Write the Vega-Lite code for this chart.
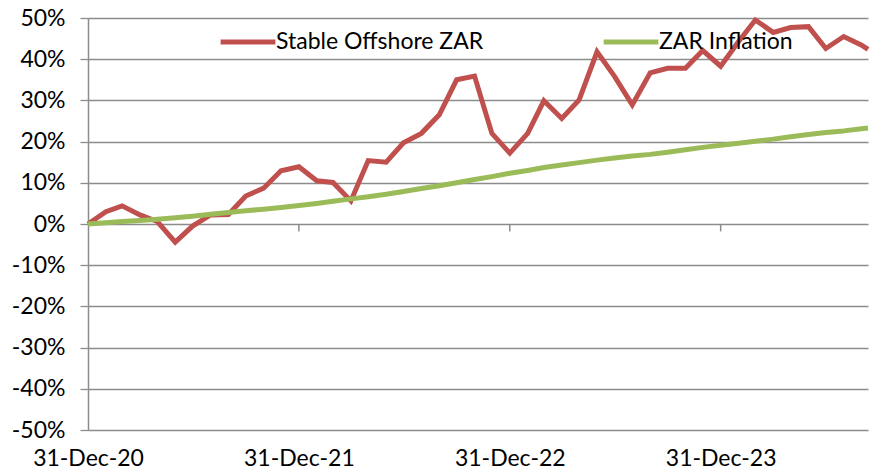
{
  "$schema": "https://vega.github.io/schema/vega-lite/v6.json",
  "width": 780,
  "height": 412,
  "autosize": {"type": "none"},
  "padding": {"left": 88, "top": 18, "right": 2, "bottom": 40},
  "background": "white",
  "config": {
    "view": {"stroke": null},
    "font": "Lato",
    "axis": {"labelFont": "Lato", "labelFontSize": 23, "labelColor": "#000000"},
    "legend": {"labelFont": "Lato", "labelFontSize": 23, "labelColor": "#000000"}
  },
  "datasets": {
    "series": [
      {"date": "2020-12-31", "series": "Stable Offshore ZAR", "value": 0.0},
      {"date": "2021-01-31", "series": "Stable Offshore ZAR", "value": 3.0},
      {"date": "2021-02-28", "series": "Stable Offshore ZAR", "value": 4.4},
      {"date": "2021-03-31", "series": "Stable Offshore ZAR", "value": 2.2},
      {"date": "2021-04-30", "series": "Stable Offshore ZAR", "value": 0.6},
      {"date": "2021-05-31", "series": "Stable Offshore ZAR", "value": -4.4},
      {"date": "2021-06-30", "series": "Stable Offshore ZAR", "value": -0.5},
      {"date": "2021-07-31", "series": "Stable Offshore ZAR", "value": 2.2},
      {"date": "2021-08-31", "series": "Stable Offshore ZAR", "value": 2.3},
      {"date": "2021-09-30", "series": "Stable Offshore ZAR", "value": 6.8},
      {"date": "2021-10-31", "series": "Stable Offshore ZAR", "value": 8.7},
      {"date": "2021-11-30", "series": "Stable Offshore ZAR", "value": 12.9},
      {"date": "2021-12-31", "series": "Stable Offshore ZAR", "value": 13.9},
      {"date": "2022-01-31", "series": "Stable Offshore ZAR", "value": 10.5},
      {"date": "2022-02-28", "series": "Stable Offshore ZAR", "value": 10.1},
      {"date": "2022-03-31", "series": "Stable Offshore ZAR", "value": 5.6},
      {"date": "2022-04-30", "series": "Stable Offshore ZAR", "value": 15.4},
      {"date": "2022-05-31", "series": "Stable Offshore ZAR", "value": 15.0},
      {"date": "2022-06-30", "series": "Stable Offshore ZAR", "value": 19.7},
      {"date": "2022-07-31", "series": "Stable Offshore ZAR", "value": 22.0},
      {"date": "2022-08-31", "series": "Stable Offshore ZAR", "value": 26.5},
      {"date": "2022-09-30", "series": "Stable Offshore ZAR", "value": 35.0},
      {"date": "2022-10-31", "series": "Stable Offshore ZAR", "value": 35.9},
      {"date": "2022-11-30", "series": "Stable Offshore ZAR", "value": 22.0},
      {"date": "2022-12-31", "series": "Stable Offshore ZAR", "value": 17.2},
      {"date": "2023-01-31", "series": "Stable Offshore ZAR", "value": 22.0},
      {"date": "2023-02-28", "series": "Stable Offshore ZAR", "value": 29.9},
      {"date": "2023-03-31", "series": "Stable Offshore ZAR", "value": 25.6},
      {"date": "2023-04-30", "series": "Stable Offshore ZAR", "value": 30.1},
      {"date": "2023-05-31", "series": "Stable Offshore ZAR", "value": 41.8},
      {"date": "2023-06-30", "series": "Stable Offshore ZAR", "value": 35.9},
      {"date": "2023-07-31", "series": "Stable Offshore ZAR", "value": 28.9},
      {"date": "2023-08-31", "series": "Stable Offshore ZAR", "value": 36.7},
      {"date": "2023-09-30", "series": "Stable Offshore ZAR", "value": 37.8},
      {"date": "2023-10-31", "series": "Stable Offshore ZAR", "value": 37.8},
      {"date": "2023-11-30", "series": "Stable Offshore ZAR", "value": 42.1},
      {"date": "2023-12-31", "series": "Stable Offshore ZAR", "value": 38.3},
      {"date": "2024-01-31", "series": "Stable Offshore ZAR", "value": 44.3},
      {"date": "2024-02-29", "series": "Stable Offshore ZAR", "value": 49.5},
      {"date": "2024-03-31", "series": "Stable Offshore ZAR", "value": 46.5},
      {"date": "2024-04-30", "series": "Stable Offshore ZAR", "value": 47.7},
      {"date": "2024-05-31", "series": "Stable Offshore ZAR", "value": 47.9},
      {"date": "2024-06-30", "series": "Stable Offshore ZAR", "value": 42.6},
      {"date": "2024-07-31", "series": "Stable Offshore ZAR", "value": 45.5},
      {"date": "2024-08-31", "series": "Stable Offshore ZAR", "value": 43.4},
      {"date": "2024-09-11", "series": "Stable Offshore ZAR", "value": 42.4},
      {"date": "2020-12-31", "series": "ZAR Inflation", "value": 0.0},
      {"date": "2021-01-31", "series": "ZAR Inflation", "value": 0.3},
      {"date": "2021-02-28", "series": "ZAR Inflation", "value": 0.6},
      {"date": "2021-03-31", "series": "ZAR Inflation", "value": 0.85},
      {"date": "2021-04-30", "series": "ZAR Inflation", "value": 1.15},
      {"date": "2021-05-31", "series": "ZAR Inflation", "value": 1.5},
      {"date": "2021-06-30", "series": "ZAR Inflation", "value": 1.9},
      {"date": "2021-07-31", "series": "ZAR Inflation", "value": 2.35},
      {"date": "2021-08-31", "series": "ZAR Inflation", "value": 2.8},
      {"date": "2021-09-30", "series": "ZAR Inflation", "value": 3.2},
      {"date": "2021-10-31", "series": "ZAR Inflation", "value": 3.6},
      {"date": "2021-11-30", "series": "ZAR Inflation", "value": 4.0},
      {"date": "2021-12-31", "series": "ZAR Inflation", "value": 4.5},
      {"date": "2022-01-31", "series": "ZAR Inflation", "value": 5.0},
      {"date": "2022-02-28", "series": "ZAR Inflation", "value": 5.5},
      {"date": "2022-03-31", "series": "ZAR Inflation", "value": 6.1},
      {"date": "2022-04-30", "series": "ZAR Inflation", "value": 6.6},
      {"date": "2022-05-31", "series": "ZAR Inflation", "value": 7.2},
      {"date": "2022-06-30", "series": "ZAR Inflation", "value": 7.9},
      {"date": "2022-07-31", "series": "ZAR Inflation", "value": 8.6},
      {"date": "2022-08-31", "series": "ZAR Inflation", "value": 9.3},
      {"date": "2022-09-30", "series": "ZAR Inflation", "value": 10.0},
      {"date": "2022-10-31", "series": "ZAR Inflation", "value": 10.8},
      {"date": "2022-11-30", "series": "ZAR Inflation", "value": 11.5},
      {"date": "2022-12-31", "series": "ZAR Inflation", "value": 12.3},
      {"date": "2023-01-31", "series": "ZAR Inflation", "value": 13.0},
      {"date": "2023-02-28", "series": "ZAR Inflation", "value": 13.7},
      {"date": "2023-03-31", "series": "ZAR Inflation", "value": 14.3},
      {"date": "2023-04-30", "series": "ZAR Inflation", "value": 14.9},
      {"date": "2023-05-31", "series": "ZAR Inflation", "value": 15.5},
      {"date": "2023-06-30", "series": "ZAR Inflation", "value": 16.0},
      {"date": "2023-07-31", "series": "ZAR Inflation", "value": 16.5},
      {"date": "2023-08-31", "series": "ZAR Inflation", "value": 16.9},
      {"date": "2023-09-30", "series": "ZAR Inflation", "value": 17.4},
      {"date": "2023-10-31", "series": "ZAR Inflation", "value": 18.0},
      {"date": "2023-11-30", "series": "ZAR Inflation", "value": 18.6},
      {"date": "2023-12-31", "series": "ZAR Inflation", "value": 19.1},
      {"date": "2024-01-31", "series": "ZAR Inflation", "value": 19.6},
      {"date": "2024-02-29", "series": "ZAR Inflation", "value": 20.1},
      {"date": "2024-03-31", "series": "ZAR Inflation", "value": 20.6},
      {"date": "2024-04-30", "series": "ZAR Inflation", "value": 21.2},
      {"date": "2024-05-31", "series": "ZAR Inflation", "value": 21.7},
      {"date": "2024-06-30", "series": "ZAR Inflation", "value": 22.2},
      {"date": "2024-07-31", "series": "ZAR Inflation", "value": 22.6},
      {"date": "2024-08-31", "series": "ZAR Inflation", "value": 23.1},
      {"date": "2024-09-11", "series": "ZAR Inflation", "value": 23.3}
    ],
    "ticks": [
      {"date": "2021-12-31"},
      {"date": "2022-12-31"},
      {"date": "2023-12-31"}
    ]
  },
  "layer": [
    {
      "data": {"name": "ticks"},
      "mark": {"type": "rule", "color": "#8c8c8c", "strokeWidth": 1.5},
      "encoding": {
        "x": {"field": "date", "type": "temporal"},
        "y": {"datum": 0, "type": "quantitative"},
        "y2": {"datum": -1.8}
      }
    },
    {
      "data": {"name": "series"},
      "transform": [{"filter": "datum.series === 'Stable Offshore ZAR'"}],
      "mark": {"type": "line", "strokeWidth": 5, "strokeJoin": "miter", "strokeCap": "butt"},
      "encoding": {
        "x": {
          "field": "date",
          "type": "temporal",
          "scale": {"type": "utc", "domain": ["2020-12-31", "2024-09-11"], "nice": false},
          "axis": {
            "title": null,
            "format": "%d-%b-%y",
            "values": [
              {"year": 2020, "month": 12, "date": 31, "utc": true},
              {"year": 2021, "month": 12, "date": 31, "utc": true},
              {"year": 2022, "month": 12, "date": 31, "utc": true},
              {"year": 2023, "month": 12, "date": 31, "utc": true}
            ],
            "ticks": false,
            "domain": false,
            "grid": false,
            "labelPadding": 17,
            "labelFlush": false,
            "labelOverlap": false
          }
        },
        "y": {
          "field": "value",
          "type": "quantitative",
          "scale": {"domain": [-50, 50], "nice": false, "zero": false},
          "axis": {
            "title": null,
            "values": [-50, -40, -30, -20, -10, 0, 10, 20, 30, 40, 50],
            "labelExpr": "datum.value + '%'",
            "grid": true,
            "gridColor": "#8c8c8c",
            "gridWidth": 1.3,
            "domain": true,
            "domainColor": "#8c8c8c",
            "domainWidth": 1.5,
            "ticks": true,
            "tickSize": 8,
            "tickColor": "#8c8c8c",
            "tickWidth": 1.3,
            "labelPadding": 15
          }
        },
        "color": {
          "field": "series",
          "type": "nominal",
          "scale": {"domain": ["Stable Offshore ZAR", "ZAR Inflation"], "range": ["#C0504D", "#9BBB59"]},
          "legend": {
            "title": null,
            "orient": "none",
            "direction": "horizontal",
            "legendX": 130,
            "legendY": -6,
            "symbolType": "stroke",
            "symbolSize": 3000,
            "symbolStrokeWidth": 5,
            "labelOffset": -2,
            "columnPadding": 109,
            "labelLimit": 400
          }
        }
      }
    },
    {
      "data": {"name": "series"},
      "transform": [{"filter": "datum.series === 'ZAR Inflation'"}],
      "mark": {"type": "line", "strokeWidth": 5, "strokeJoin": "round", "strokeCap": "butt"},
      "encoding": {
        "x": {"field": "date", "type": "temporal"},
        "y": {"field": "value", "type": "quantitative"},
        "color": {"field": "series", "type": "nominal"}
      }
    }
  ]
}
